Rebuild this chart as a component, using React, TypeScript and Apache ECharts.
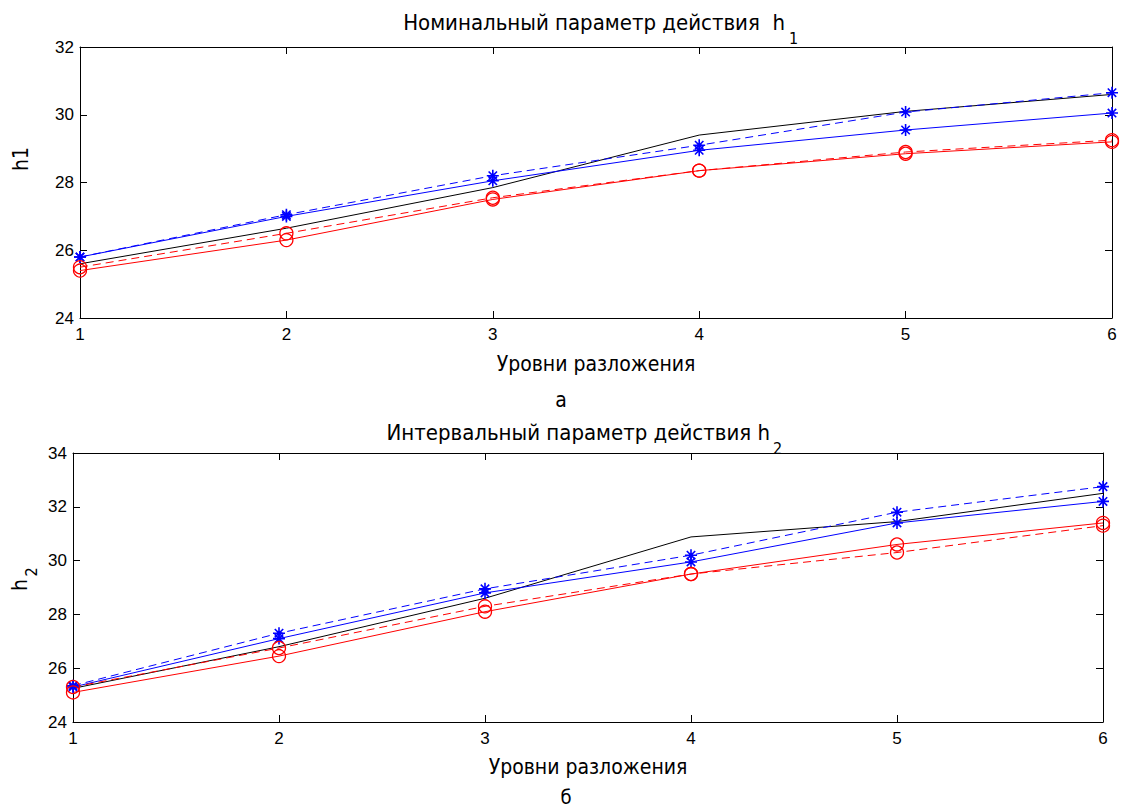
import React, { useEffect, useRef } from "react";
import * as echarts from "echarts";

const levels = [1, 2, 3, 4, 5, 6];
const xTicks = [1, 2, 3, 4, 5, 6];

// Top plot: h1
const h1Black = [25.6, 26.65, 27.85, 29.4, 30.1, 30.6];
const h1BlueSolid = [25.8, 27.0, 28.05, 28.95, 29.55, 30.05];
const h1BlueDashed = [25.8, 27.05, 28.2, 29.1, 30.08, 30.65];
const h1RedSolid = [25.4, 26.3, 27.5, 28.35, 28.85, 29.2];
const h1RedDashed = [25.5, 26.5, 27.55, 28.35, 28.9, 29.25];

// Bottom plot: h2
const h2Black = [25.25, 26.8, 28.6, 30.88, 31.45, 32.5];
const h2BlueSolid = [25.3, 27.1, 28.8, 29.95, 31.4, 32.2];
const h2BlueDashed = [25.35, 27.3, 28.95, 30.2, 31.8, 32.75];
const h2RedSolid = [25.1, 26.45, 28.1, 29.5, 30.6, 31.4];
const h2RedDashed = [25.3, 26.75, 28.3, 29.5, 30.3, 31.3];

const yTicksTop = [24, 26, 28, 30, 32];
const yTicksBottom = [24, 26, 28, 30, 32, 34];

const titleTop = "Номинальный параметр действия  h";
const titleBottom = "Интервальный параметр действия h";
const xLabel = "Уровни разложения";

const BLUE = "#0000ff";
const RED = "#ff0000";
const BLACK = "#000000";
const TICK_FONT = "'Liberation Sans', Arial, sans-serif";
const NARROW = "'DejaVu Sans Condensed', 'Liberation Sans', sans-serif";

const STAR =
  "path://M0,-6L0,6M-6,0L6,0M-4.2,-4.2L4.2,4.2M-4.2,4.2L4.2,-4.2";

function pair(xs: number[], ys: number[]) {
  return xs.map((x, i) => [x, ys[i]]);
}

export default function App() {
  const ref = useRef<HTMLDivElement>(null);

  useEffect(() => {
    if (!ref.current) return;
    const chart = echarts.init(ref.current, undefined, { renderer: "svg" });

    const axisCommon = {
      axisLine: { show: true, lineStyle: { color: BLACK, width: 1 } },
      axisTick: { show: true, inside: true, length: 7, lineStyle: { color: BLACK } },
      splitLine: { show: false },
    };

    const xAxisFor = (gi: number) => [
      {
        type: "value",
        gridIndex: gi,
        min: 1,
        max: 6,
        interval: 1,
        position: "bottom",
        ...axisCommon,
        axisLabel: {
          color: BLACK,
          fontSize: 17,
          fontFamily: TICK_FONT,
          margin: 8,
          formatter: (v: number) => (xTicks.includes(v) ? String(v) : ""),
        },
      },
      {
        type: "value",
        gridIndex: gi,
        min: 1,
        max: 6,
        interval: 1,
        position: "top",
        ...axisCommon,
        axisLabel: { show: false },
      },
    ];

    const yAxisFor = (gi: number, max: number, ticks: number[]) => [
      {
        type: "value",
        gridIndex: gi,
        min: 24,
        max,
        interval: 2,
        position: "left",
        ...axisCommon,
        axisLabel: {
          color: BLACK,
          fontSize: 17,
          fontFamily: TICK_FONT,
          margin: 6,
          formatter: (v: number) => (ticks.includes(v) ? String(v) : ""),
        },
      },
      {
        type: "value",
        gridIndex: gi,
        min: 24,
        max,
        interval: 2,
        position: "right",
        ...axisCommon,
        axisLabel: { show: false },
      },
    ];

    const mk = (
      xi: number,
      data: number[],
      color: string,
      dashed: boolean,
      marker: "star" | "circle" | "none"
    ) => ({
      type: "line",
      xAxisIndex: xi,
      yAxisIndex: xi,
      data: pair(levels, data),
      symbol: marker === "star" ? STAR : marker === "circle" ? "circle" : "none",
      symbolSize: marker === "star" ? 12 : 13,
      showSymbol: marker !== "none",
      lineStyle: { color, width: 1, type: dashed ? [8, 5] : "solid" },
      itemStyle: {
        color: marker === "star" ? color : "rgba(0,0,0,0)",
        borderColor: color,
        borderWidth: marker === "star" ? 1.6 : 1.3,
      },
      emphasis: { disabled: true },
      silent: true,
    });

    const text = (
      x: number,
      y: number,
      t: string,
      size: number,
      font: string,
      align: string = "center",
      rotation = 0
    ) => ({
      type: "text",
      x,
      y,
      rotation,
      style: {
        text: t,
        fontSize: size,
        fontFamily: font,
        fill: BLACK,
        textAlign: align,
        textVerticalAlign: "middle",
      },
    });

    chart.setOption({
      animation: false,
      backgroundColor: "#ffffff",
      grid: [
        { left: 80, top: 47, width: 1032, height: 271 },
        { left: 73, top: 453, width: 1030, height: 269 },
      ],
      xAxis: [...xAxisFor(0), ...xAxisFor(1)],
      yAxis: [...yAxisFor(0, 32, yTicksTop), ...yAxisFor(1, 34, yTicksBottom)],
      series: [
        mk(0, h1Black, BLACK, false, "none"),
        mk(0, h1BlueSolid, BLUE, false, "star"),
        mk(0, h1BlueDashed, BLUE, true, "star"),
        mk(0, h1RedSolid, RED, false, "circle"),
        mk(0, h1RedDashed, RED, true, "circle"),
        mk(2, h2Black, BLACK, false, "none"),
        mk(2, h2BlueSolid, BLUE, false, "star"),
        mk(2, h2BlueDashed, BLUE, true, "star"),
        mk(2, h2RedSolid, RED, false, "circle"),
        mk(2, h2RedDashed, RED, true, "circle"),
      ],
      graphic: [
        text(785, 22, titleTop, 22, NARROW, "right"),
        text(789, 38, "1", 16, NARROW, "left"),
        text(770, 432, titleBottom, 22, NARROW, "right"),
        text(773, 448, "2", 16, NARROW, "left"),
        text(596, 364, xLabel, 21, NARROW),
        text(561, 400, "а", 21, NARROW),
        text(588, 767, xLabel, 21, NARROW),
        text(566, 797, "б", 20, NARROW),
        text(21, 159, "h1", 21, NARROW, "center", Math.PI / 2),
        text(20, 585, "h", 21, NARROW, "center", Math.PI / 2),
        text(31, 572, "2", 16, NARROW, "center", Math.PI / 2),
      ],
    });

    return () => chart.dispose();
  }, []);

  return (
    <div
      ref={ref}
      style={{ position: "fixed", left: 0, top: 0, width: 1123, height: 809, background: "#fff" }}
    />
  );
}
